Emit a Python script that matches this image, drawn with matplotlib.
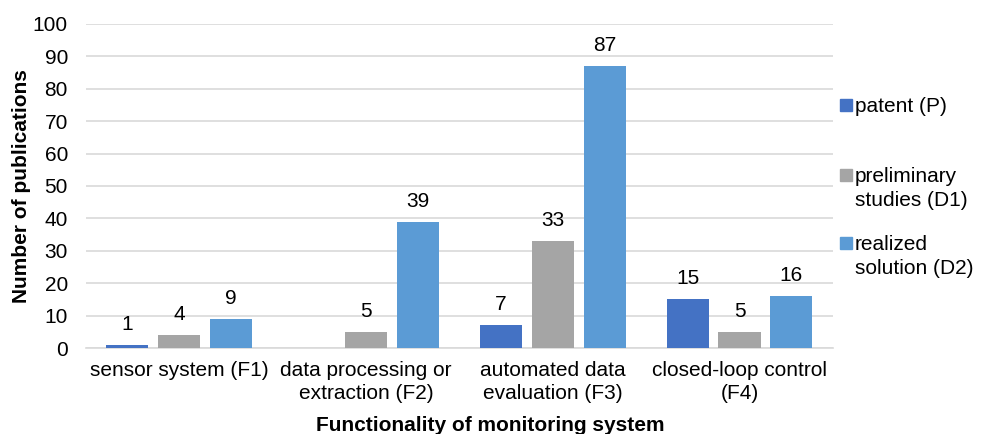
import numpy as np
import matplotlib.pyplot as plt
from matplotlib.patches import Rectangle

plt.rcParams['font.family'] = ['Liberation Sans', 'DejaVu Sans']

categories = ['sensor system (F1)', 'data processing or\nextraction (F2)',
              'automated data\nevaluation (F3)', 'closed-loop control\n(F4)']
series = ['patent (P)', 'preliminary\nstudies (D1)', 'realized\nsolution (D2)']
patent = [1, 0, 7, 15]
preliminary = [4, 5, 33, 5]
realized = [9, 39, 87, 16]
colors = ['#4472C4', '#A5A5A5', '#5B9BD5']

fs = 15

fig = plt.figure(figsize=(9.84, 4.34), dpi=100)
ax = fig.add_axes([0.0874, 0.198, 0.759, 0.747])

x = np.arange(len(categories))
width = 0.225
step = 0.278
for i, (vals, col) in enumerate(zip([patent, preliminary, realized], colors)):
    pos = x + (i - 1) * step
    for p, v in zip(pos, vals):
        if v == 0:
            continue
        ax.bar(p, v, width=width, color=col, zorder=3)
        ax.annotate(str(v), (p, v), xytext=(0, 8), textcoords='offset points',
                    ha='center', va='bottom', fontsize=fs)

ax.set_xlim(-0.5, len(categories) - 0.5)
ax.set_ylim(0, 100)
ax.set_yticks(range(0, 101, 10))
ax.set_xticks(x)
ax.set_xticklabels(categories, fontsize=fs, linespacing=1.32)
ax.tick_params(axis='y', labelsize=fs, length=0, pad=13)
ax.tick_params(axis='x', length=0, pad=9)
ax.yaxis.grid(True, color='#D9D9D9', linewidth=1.2, zorder=0)
for s in ['top', 'right', 'left']:
    ax.spines[s].set_visible(False)
ax.spines['bottom'].set_color('#D9D9D9')
ax.spines['bottom'].set_linewidth(1.2)

ax.set_ylabel('Number of publications', fontsize=fs, fontweight='bold', va='center')
ax.yaxis.set_label_coords(-0.087, 0.5)
ax.set_xlabel('Functionality of monitoring system', fontsize=fs, fontweight='bold',
              va='center')
ax.xaxis.set_label_coords(0.541, -0.24)

# legend drawn by hand so the square sits next to the first text line
leg_y = [105, 175, 243]
for label, col, yy in zip(series, colors, leg_y):
    fy = 1 - yy / 434
    fig.patches.append(Rectangle((840 / 984, fy - 6 / 434), 12 / 984, 12 / 434,
                                 transform=fig.transFigure, color=col))
    fig.text(855 / 984, fy + 8 / 434, label, fontsize=fs, va='top', ha='left',
             linespacing=1.32)

fig.savefig('out.png', dpi=100)
